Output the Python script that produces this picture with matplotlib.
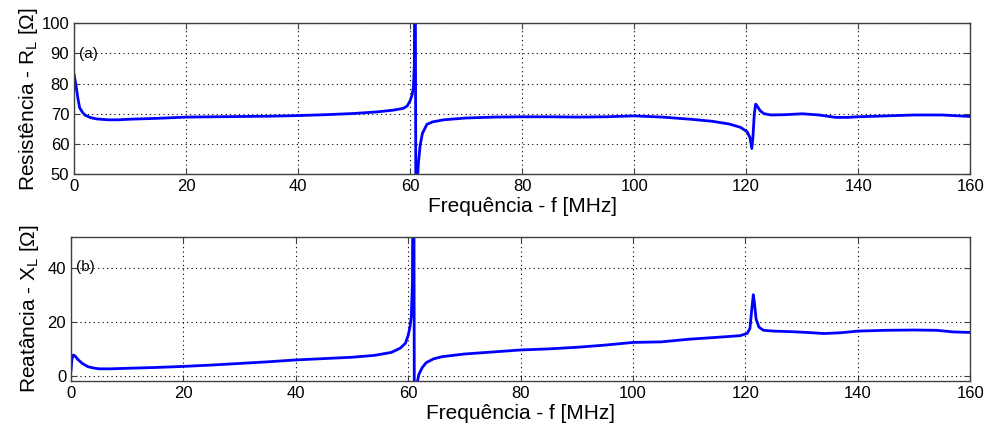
import matplotlib
matplotlib.use("Agg")
import matplotlib.pyplot as plt

plt.rcParams['font.family'] = ['Liberation Sans', 'DejaVu Sans']
plt.rcParams['mathtext.fontset'] = 'custom'
plt.rcParams['mathtext.rm'] = 'Liberation Sans'
plt.rcParams['mathtext.it'] = 'Liberation Sans'

# (a) resistance R_L vs frequency
freq_r = [0, 0.3, 0.7, 1.0, 1.5, 2, 3, 4, 6, 8, 10, 15, 20, 25, 30, 35, 40, 45, 50, 54,
          57, 58.8, 59.5, 60.0, 60.4, 60.6, 60.75, 60.9, 61.05, 61.3, 61.5, 61.8, 62.2, 63,
          64, 66, 70, 75, 80, 85, 90, 95, 100, 105, 110, 114, 117, 119, 120.2, 120.7, 121.0,
          121.2, 121.45, 121.7, 122.0, 122.5, 123.2, 124.5, 127, 130, 133, 136, 138, 140,
          145, 150, 155, 160]
res_r = [83, 80, 75, 72, 70.5, 69.5, 68.7, 68.3, 68.0, 68.0, 68.2, 68.5, 68.9, 69.0, 69.1,
         69.2, 69.4, 69.7, 70.1, 70.6, 71.2, 71.8, 72.6, 74.3, 76.5, 79, 86, 140, 20, 48,
         54, 59.6, 63.5, 66.5, 67.3, 68.0, 68.6, 68.9, 69.0, 69.0, 68.9, 69.0, 69.3, 68.9,
         68.2, 67.5, 66.6, 65.5, 64, 62, 58.5, 62, 70, 73.2, 72.5, 71, 70, 69.6, 69.7, 70.0,
         69.6, 68.8, 68.8, 69.0, 69.3, 69.6, 69.6, 69.1]

# (b) reactance X_L vs frequency
freq_x = [0, 0.15, 0.4, 0.7, 1.2, 2, 3, 4, 5, 7, 10, 15, 20, 25, 30, 35, 40, 45, 50, 54,
          57, 58.6, 59.5, 60.0, 60.3, 60.55, 60.75, 60.95, 61.1, 61.35, 61.6, 61.9, 62.5,
          63.2, 64.5, 66, 70, 76, 80, 85, 90, 95, 100, 105, 110, 115, 119, 120.3, 120.8,
          121.1, 121.4, 121.6, 121.9, 122.4, 123.2, 125, 128, 131, 134, 137, 140, 145, 150,
          154, 157, 160]
rea_x = [2, 6, 7.6, 7.3, 6, 4.5, 3.3, 2.8, 2.5, 2.5, 2.7, 3.0, 3.4, 3.9, 4.5, 5.1, 5.8,
         6.3, 6.8, 7.5, 8.6, 10.2, 12, 15, 18, 22, 35, 150, -40, -10, -2.5, 0.5, 3, 4.8,
         6.2, 7.0, 8.0, 8.9, 9.5, 9.9, 10.5, 11.3, 12.3, 12.5, 13.5, 14.2, 14.8, 15.6, 17.5,
         24, 30, 27, 21, 18, 16.8, 16.5, 16.3, 16.0, 15.6, 15.9, 16.5, 16.8, 16.9, 16.8,
         16.2, 16.0]

x_ticks = [0, 20, 40, 60, 80, 100, 120, 140, 160]
r_ticks = [50, 60, 70, 80, 90, 100]
x_ticks_b = [0, 20, 40]


def style_axes(ax):
    ax.grid(True, color='black', linestyle=(0, (1, 3)), linewidth=0.8)
    ax.tick_params(direction='in', top=True, right=True, labelsize=12, length=4,
                   color='#404040')
    for s in ax.spines.values():
        s.set_color('#404040')
        s.set_linewidth(1.0)


fig = plt.figure(figsize=(9.87, 4.29), dpi=100)
ax1 = fig.add_axes([0.075, 0.594, 0.908, 0.352])
ax2 = fig.add_axes([0.072, 0.112, 0.911, 0.336])

ax1.plot(freq_r, res_r, color='#0000ff', linewidth=2.0)
ax1.set_xlim(0, 160)
ax1.set_ylim(50, 100)
ax1.set_xticks(x_ticks)
ax1.set_yticks(r_ticks)
ax1.set_xlabel('Frequência - f [MHz]', fontsize=15, labelpad=2)
ax1.set_ylabel('Resistência - R$_\\mathrm{L}$ [Ω]', fontsize=15, labelpad=1)
ax1.text(0.006, 0.77, '(a)', transform=ax1.transAxes, fontsize=11)
style_axes(ax1)

ax2.plot(freq_x, rea_x, color='#0000ff', linewidth=2.0)
ax2.set_xlim(0, 160)
ax2.set_ylim(-2, 51.5)
ax2.set_xticks(x_ticks)
ax2.set_yticks(x_ticks_b)
ax2.set_xlabel('Frequência - f [MHz]', fontsize=15, labelpad=2)
ax2.set_ylabel('Reatância - X$_\\mathrm{L}$ [Ω]', fontsize=15, labelpad=5)
ax2.text(0.006, 0.76, '(b)', transform=ax2.transAxes, fontsize=11)
style_axes(ax2)

fig.savefig('out.png', dpi=100)
